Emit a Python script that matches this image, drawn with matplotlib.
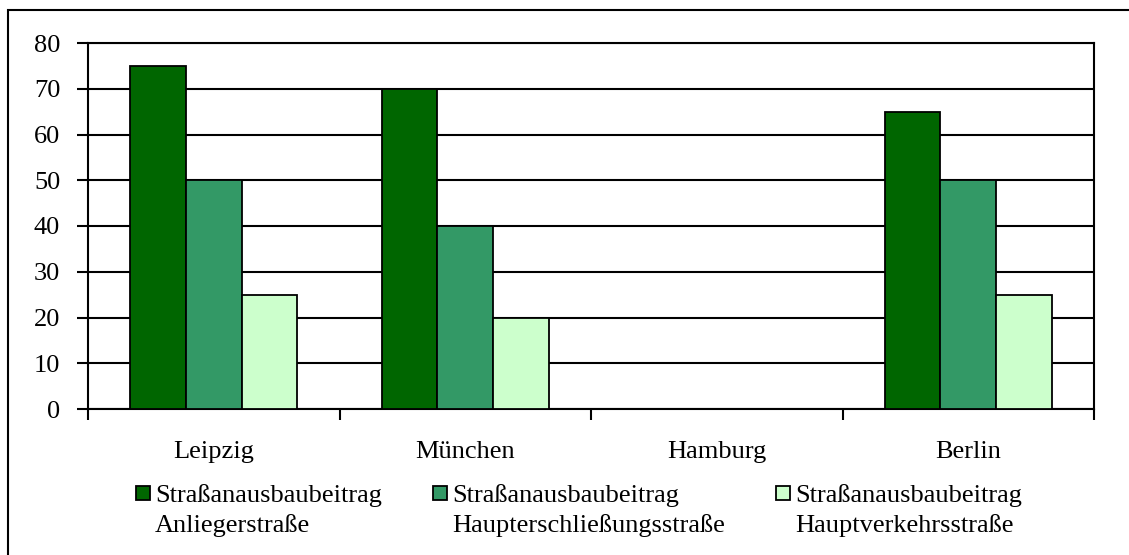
import matplotlib
matplotlib.use("Agg")
import matplotlib.pyplot as plt
import numpy as np
from matplotlib.patches import Rectangle

cities = ["Leipzig", "München", "Hamburg", "Berlin"]
anlieger = [75, 70, 0, 65]
haupterschliessung = [50, 40, 0, 50]
hauptverkehr = [25, 20, 0, 25]
series_labels = ["Straßanausbaubeitrag\nAnliegerstraße",
                 "Straßanausbaubeitrag\nHaupterschließungsstraße",
                 "Straßanausbaubeitrag\nHauptverkehrsstraße"]
colors = ["#006600", "#339966", "#CCFFCC"]
yticks = list(range(0, 81, 10))

plt.rcParams["font.family"] = ["Liberation Serif", "DejaVu Serif"]
FS = 19

W, H = 1129, 555
fig = plt.figure(figsize=(W / 100, H / 100), dpi=100)

# outer chart border (bottom/right run off the image)
fig.patches.append(Rectangle((8 / W, -0.05), 1.2, (H - 10) / H + 0.05,
                             transform=fig.transFigure, fill=False,
                             edgecolor="black", lw=1.5, zorder=0))

ax = fig.add_axes([88 / W, (H - 409) / H, 1006 / W, 366 / H])
x = np.arange(len(cities))
bw = 0.222
for i, vals in enumerate([anlieger, haupterschliessung, hauptverkehr]):
    ax.bar(x + (i - 1) * bw, vals, bw, color=colors[i], edgecolor="black",
           lw=1.3, zorder=3)

ax.set_xlim(-0.5, len(cities) - 0.5)
ax.set_ylim(0, 80)
ax.set_yticks(yticks)
ax.yaxis.grid(True, color="black", lw=1.5, zorder=0)
ax.set_axisbelow(True)
ax.tick_params(axis="y", length=8, width=1.5, labelsize=FS, pad=12)
ax.set_xticks(np.arange(-0.5, len(cities), 1.0))
ax.set_xticklabels([])
ax.tick_params(axis="x", length=8, width=1.5)
for s in ax.spines.values():
    s.set_linewidth(1.5)

# category names, baseline ~49 px under the axis
for xi, name in zip(x, cities):
    ax.annotate(name, (xi, 0), xycoords=("data", "axes fraction"),
                xytext=(0, -49 * 0.72), textcoords="offset points",
                ha="center", va="baseline", fontsize=FS)

# legend (square + two text lines per entry)
sq_x = [136, 433, 776]
for i, lab in enumerate(series_labels):
    fig.patches.append(Rectangle((sq_x[i] / W, (H - 500) / H), 14 / W, 14 / H,
                                 transform=fig.transFigure, facecolor=colors[i],
                                 edgecolor="black", lw=1.3))
    for j, line in enumerate(lab.split("\n")):
        fig.text((sq_x[i] + 19) / W, (H - 502 - 30 * j) / H, line,
                 ha="left", va="baseline", fontsize=FS)

fig.savefig("out.png", dpi=100)
